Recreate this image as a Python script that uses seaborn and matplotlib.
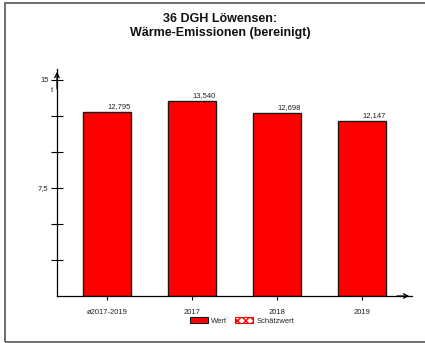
import matplotlib
matplotlib.use("Agg")
import matplotlib.pyplot as plt
import seaborn as sns
import pandas as pd
from matplotlib.patches import Patch, Rectangle

categories = ["ø2017-2019", "2017", "2018", "2019"]
values = [12.795, 13.540, 12.698, 12.147]
value_labels = ["12,795", "13,540", "12,698", "12,147"]
ytick_values = [2.5, 5, 7.5, 10, 12.5, 15]
ytick_labels = ["", "", "7,5", "", "", "15"]
title = "36 DGH Löwensen:\nWärme-Emissionen (bereinigt)"
legend_labels = ["Wert", "Schätzwert"]

sns.set_style("white")
plt.rcParams["font.family"] = ["Liberation Sans", "DejaVu Sans"]

W, H = 425, 343
fig = plt.figure(figsize=(W / 100, H / 100), dpi=100)

# axes placement in pixels
x0, x1 = 57, 412
y_bottom, y_top = 296, 69
ax = fig.add_axes([x0 / W, (H - y_bottom) / H, (x1 - x0) / W, (y_bottom - y_top) / H])

df = pd.DataFrame({"cat": categories, "val": values})
sns.barplot(data=df, x="cat", y="val", ax=ax, color="#FF0000", saturation=1,
            width=0.565, edgecolor="#1a1a1a", linewidth=1.0)

ax.set_xlim(-0.588, 3.59)
ax.set_ylim(0, (y_bottom - y_top) / 14.4)
ax.set_xlabel("")
ax.set_ylabel("")

for s in ["top", "right"]:
    ax.spines[s].set_visible(False)
for s in ["left", "bottom"]:
    ax.spines[s].set_color("black")
    ax.spines[s].set_linewidth(0.9)

ax.set_yticks(ytick_values)
ax.set_yticklabels(ytick_labels, fontsize=5.5, color="#222222")
ax.tick_params(axis="y", direction="inout", length=8, width=0.8, color="black", pad=2, left=True)
ax.tick_params(axis="x", direction="out", length=3, width=0.8, color="black", pad=6, bottom=True,
               labelsize=5.5, labelcolor="#222222")

# unit label
ax.text(-0.012, 14.3, "t", transform=ax.get_yaxis_transform(), ha="right", va="center",
        fontsize=5.5, color="#222222")

# arrows at axis ends
ax.annotate("", xy=(0, 1.0), xycoords="axes fraction", xytext=(0, 0.9),
            arrowprops=dict(arrowstyle="->", color="black", lw=0.9, mutation_scale=8))
ax.annotate("", xy=(1.0, 0), xycoords="axes fraction", xytext=(0.95, 0),
            arrowprops=dict(arrowstyle="->", color="black", lw=0.9, mutation_scale=8))

# value labels
for i, p in enumerate(ax.patches[:len(values)]):
    ax.text(p.get_x() + p.get_width(), p.get_height() + 0.15, value_labels[i],
            ha="right", va="bottom", fontsize=5.5, color="#222222")

fig.text(220 / W, 1 - 26 / H, title, ha="center", va="center", fontsize=9,
         fontweight="bold", linespacing=1.2, color="#111111")

# legend
h1 = Patch(facecolor="#FF0000", edgecolor="#1a1a1a", linewidth=0.8)
try:
    h2 = Patch(facecolor="white", edgecolor="#1a1a1a", hatch="xxxx", hatchcolor="#FF0000", linewidth=0.8)
except Exception:
    h2 = Patch(facecolor="white", edgecolor="#FF0000", hatch="xxxx", linewidth=0.8)
fig.legend([h1, h2], legend_labels, loc="center", bbox_to_anchor=(242 / W, 1 - 321 / H),
           ncol=2, frameon=False, fontsize=5.5, handlelength=2.4, handleheight=0.9,
           handletextpad=0.4, columnspacing=1.0, borderpad=0)

# outer border (right edge runs off the canvas)
fig.patches.append(Rectangle((5 / W, 1 - 342 / H), 1.0, (342 - 3) / H,
                             transform=fig.transFigure, fill=False, edgecolor="#555555",
                             linewidth=1.2, figure=fig))

fig.savefig("out.png", dpi=100)
